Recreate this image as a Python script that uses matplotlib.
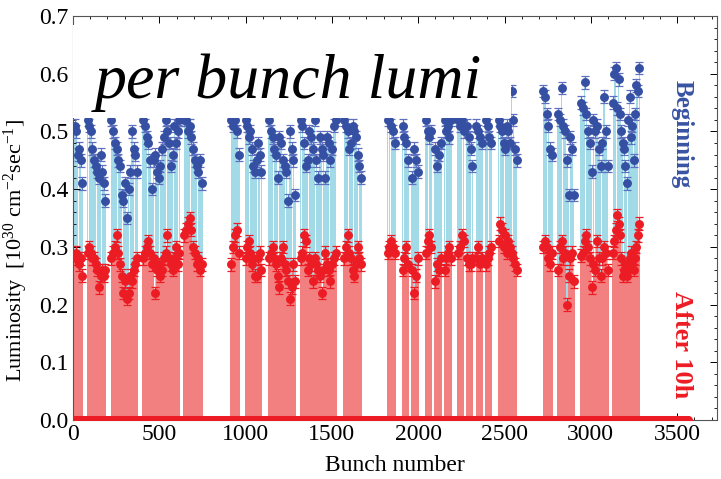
import numpy as np
import matplotlib
matplotlib.use('Agg')
import matplotlib.pyplot as plt
from matplotlib.patches import Rectangle
from matplotlib.ticker import MultipleLocator, FormatStrFormatter

plt.rcParams['font.family'] = ['Liberation Serif', 'DejaVu Serif']
plt.rcParams['mathtext.fontset'] = 'custom'
plt.rcParams['mathtext.rm'] = 'Liberation Serif'
plt.rcParams['mathtext.it'] = 'Liberation Serif:italic'

# bunch trains (first and last slot of each filled train)
train_start = [8, 80, 218, 402, 640, 912, 995, 1131, 1314, 1567, 1818, 1905, 1960,
               2040, 2092, 2148, 2224, 2278, 2332, 2386, 2462, 2720, 2805, 2938, 3125]
train_end = [56, 193, 377, 622, 752, 966, 1096, 1291, 1527, 1673, 1870, 1945, 2003,
             2080, 2138, 2195, 2268, 2318, 2374, 2428, 2574, 2779, 2906, 3103, 3284]

# luminosity at the beginning of the fill, read per train
lumi_begin = [
    [0.51, 0.50, 0.46, 0.47, 0.45, 0.41],
    [0.52, 0.51, 0.50, 0.47, 0.45, 0.44, 0.43, 0.42, 0.46, 0.43, 0.41, 0.38],
    [0.52, 0.50, 0.48, 0.47, 0.45, 0.44, 0.39, 0.38, 0.41, 0.35, 0.40, 0.43, 0.50, 0.47, 0.46, 0.43],
    [0.52, 0.51, 0.49, 0.48, 0.45, 0.40, 0.45, 0.46, 0.43, 0.42, 0.44, 0.47, 0.49, 0.52, 0.50,
     0.48, 0.44, 0.46, 0.51, 0.48, 0.50, 0.52],
    [0.52, 0.52, 0.50, 0.51, 0.49, 0.47, 0.45, 0.44, 0.43, 0.45, 0.41],
    [0.52, 0.51, 0.52, 0.50, 0.46],
    [0.52, 0.51, 0.49, 0.50, 0.47, 0.44, 0.43, 0.45, 0.48, 0.46, 0.43],
    [0.52, 0.50, 0.49, 0.47, 0.46, 0.42, 0.49, 0.48, 0.45, 0.44, 0.43, 0.38, 0.50, 0.47, 0.45, 0.39],
    [0.52, 0.51, 0.48, 0.44, 0.45, 0.50, 0.49, 0.47, 0.52, 0.45, 0.42, 0.49, 0.47, 0.46, 0.42,
     0.49, 0.48, 0.45, 0.47, 0.51, 0.52],
    [0.52, 0.51, 0.50, 0.47, 0.48, 0.51, 0.50, 0.49, 0.46, 0.44, 0.42],
    [0.52, 0.52, 0.51, 0.50, 0.48],
    [0.51, 0.49, 0.48, 0.45],
    [0.42, 0.47, 0.45, 0.43],
    [0.52, 0.50, 0.49, 0.50],
    [0.47, 0.44, 0.46, 0.48],
    [0.52, 0.50, 0.51, 0.49, 0.52],
    [0.52, 0.51, 0.52, 0.50],
    [0.51, 0.49, 0.47, 0.44],
    [0.51, 0.50, 0.49, 0.48],
    [0.52, 0.51, 0.49, 0.48],
    [0.52, 0.51, 0.50, 0.48, 0.47, 0.51, 0.50, 0.48, 0.57, 0.52, 0.47, 0.45],
    [0.57, 0.56, 0.53, 0.51, 0.47, 0.46],
    [0.53, 0.52, 0.575, 0.51, 0.50, 0.45, 0.39, 0.49, 0.47, 0.39],
    [0.55, 0.54, 0.585, 0.53, 0.50, 0.48, 0.43, 0.52, 0.50, 0.51, 0.47, 0.44, 0.48, 0.56, 0.50, 0.44],
    [0.55, 0.60, 0.61, 0.54, 0.59, 0.53, 0.50, 0.48, 0.47, 0.44, 0.41, 0.52, 0.56, 0.49, 0.51,
     0.45, 0.53, 0.58, 0.57, 0.61],
]

# luminosity after 10 hours
lumi_10h = [
    [0.28, 0.29, 0.28, 0.27, 0.28, 0.25],
    [0.29, 0.30, 0.29, 0.28, 0.28, 0.27, 0.26, 0.23, 0.25, 0.26, 0.25, 0.26],
    [0.28, 0.29, 0.30, 0.32, 0.29, 0.27, 0.25, 0.22, 0.24, 0.21, 0.22, 0.25, 0.24, 0.26, 0.27, 0.28],
    [0.28, 0.29, 0.30, 0.31, 0.29, 0.27, 0.28, 0.22, 0.26, 0.27, 0.25, 0.26, 0.28, 0.29, 0.32,
     0.28, 0.27, 0.26, 0.28, 0.30, 0.27, 0.29],
    [0.32, 0.33, 0.34, 0.35, 0.33, 0.30, 0.29, 0.27, 0.28, 0.26, 0.27],
    [0.27, 0.30, 0.32, 0.33, 0.29],
    [0.28, 0.30, 0.31, 0.29, 0.27, 0.28, 0.25, 0.25, 0.28, 0.29, 0.26],
    [0.28, 0.29, 0.30, 0.28, 0.27, 0.25, 0.23, 0.28, 0.30, 0.27, 0.26, 0.24, 0.21, 0.23, 0.27, 0.24],
    [0.28, 0.29, 0.32, 0.31, 0.26, 0.28, 0.27, 0.24, 0.28, 0.27, 0.26, 0.25, 0.22, 0.26, 0.29,
     0.27, 0.26, 0.24, 0.27, 0.28, 0.29],
    [0.28, 0.30, 0.32, 0.29, 0.28, 0.26, 0.25, 0.27, 0.30, 0.28, 0.27],
    [0.29, 0.30, 0.31, 0.30, 0.29],
    [0.26, 0.28, 0.30, 0.27],
    [0.26, 0.22, 0.25, 0.28],
    [0.29, 0.31, 0.32, 0.30],
    [0.24, 0.27, 0.26, 0.28],
    [0.26, 0.28, 0.29, 0.30, 0.28],
    [0.29, 0.30, 0.32, 0.31],
    [0.28, 0.27, 0.27, 0.28],
    [0.28, 0.30, 0.27, 0.28],
    [0.27, 0.28, 0.29, 0.30],
    [0.31, 0.34, 0.33, 0.30, 0.32, 0.29, 0.31, 0.30, 0.29, 0.28, 0.27, 0.26],
    [0.30, 0.31, 0.30, 0.28, 0.27, 0.29],
    [0.26, 0.30, 0.31, 0.28, 0.29, 0.20, 0.25, 0.28, 0.29, 0.24],
    [0.285, 0.29, 0.31, 0.32, 0.30, 0.28, 0.23, 0.27, 0.26, 0.31, 0.28, 0.25, 0.28, 0.30, 0.29, 0.26],
    [0.29, 0.31, 0.33, 0.355, 0.34, 0.32, 0.28, 0.25, 0.26, 0.27, 0.25, 0.26, 0.28, 0.29, 0.27,
     0.26, 0.28, 0.30, 0.32, 0.34],
]

n_slots = 3564
lumi_err = 0.011

CYAN = '#a3dae8'
PINK = '#f38080'
BLUE = '#3550a3'
BLUE_ERR = '#6070c0'
RED = '#ec1c24'

# place the read values evenly over each train
xs, ws, b_vals, r_vals = [], [], [], []
for s, e, b, r in zip(train_start, train_end, lumi_begin, lumi_10h):
    n = len(b)
    step = (e - s) / n
    xs.extend(s + step * (np.arange(n) + 0.5))
    ws.extend([step] * n)
    b_vals.extend(b)
    r_vals.extend(r)
xs = np.array(xs)
ws = np.array(ws)
b_vals = np.array(b_vals)
r_vals = np.array(r_vals)

fig = plt.figure(figsize=(7.21, 4.79), dpi=100)
ax = fig.add_axes([0.1012, 0.1232, 0.8933, 0.8434])

ax.bar(xs, b_vals, width=ws * 0.85, color=CYAN, edgecolor='none', zorder=1)
ax.bar(xs, r_vals, width=ws, color=PINK, edgecolor='none', zorder=2)

# empty slots sit at zero
slots = np.arange(0, n_slots, 3)
ax.plot(slots, np.zeros(len(slots)), 'o', ms=5.5, color=RED, zorder=3)

ax.errorbar(xs, b_vals, yerr=lumi_err, fmt='o', ms=5.4, color=BLUE, ecolor=BLUE_ERR,
            elinewidth=0.9, capsize=2.6, capthick=0.9, zorder=4)
ax.errorbar(xs, r_vals, yerr=lumi_err, fmt='o', ms=5.4, color=RED, ecolor=RED,
            elinewidth=0.9, capsize=2.6, capthick=0.9, zorder=4)

# white box behind the big caption
ax.add_patch(Rectangle((0, 0.523), 2535, 0.162, facecolor='white', edgecolor='none', zorder=6))
ax.text(127, 0.558, 'per bunch lumi', fontsize=46, fontstyle='italic', va='baseline',
        ha='left', color='black', zorder=7)

ax.text(3528, 0.496, 'Beginning', rotation=270, fontsize=18, fontweight='bold',
        color='#3953a4', ha='center', va='center', zorder=7)
ax.text(3528, 0.13, 'After 10h', rotation=270, fontsize=19, fontweight='bold',
        color=RED, ha='center', va='center', zorder=7)

ax.set_xlim(0, 3731)
ax.set_ylim(0, 0.7)
ax.xaxis.set_major_locator(MultipleLocator(500))
ax.xaxis.set_minor_locator(MultipleLocator(100))
ax.yaxis.set_major_locator(MultipleLocator(0.1))
ax.yaxis.set_minor_locator(MultipleLocator(0.02))
ax.yaxis.set_major_formatter(FormatStrFormatter('%.1f'))
ax.tick_params(which='both', direction='in', top=True, right=True, labelsize=17, pad=3)
ax.tick_params(which='major', length=5, width=0.7)
ax.tick_params(which='minor', length=2.5, width=0.6)
for sp in ax.spines.values():
    sp.set_linewidth(0.8)
    sp.set_color('#555555')

ax.set_xlabel('Bunch number', fontsize=17, labelpad=7)
ax.set_ylabel(r'Luminosity  [10$^{30}$ cm$^{-2}$sec$^{-1}$]', fontsize=16)
ax.yaxis.set_label_coords(-0.066, 0.42)

fig.savefig('out.png', dpi=100)
